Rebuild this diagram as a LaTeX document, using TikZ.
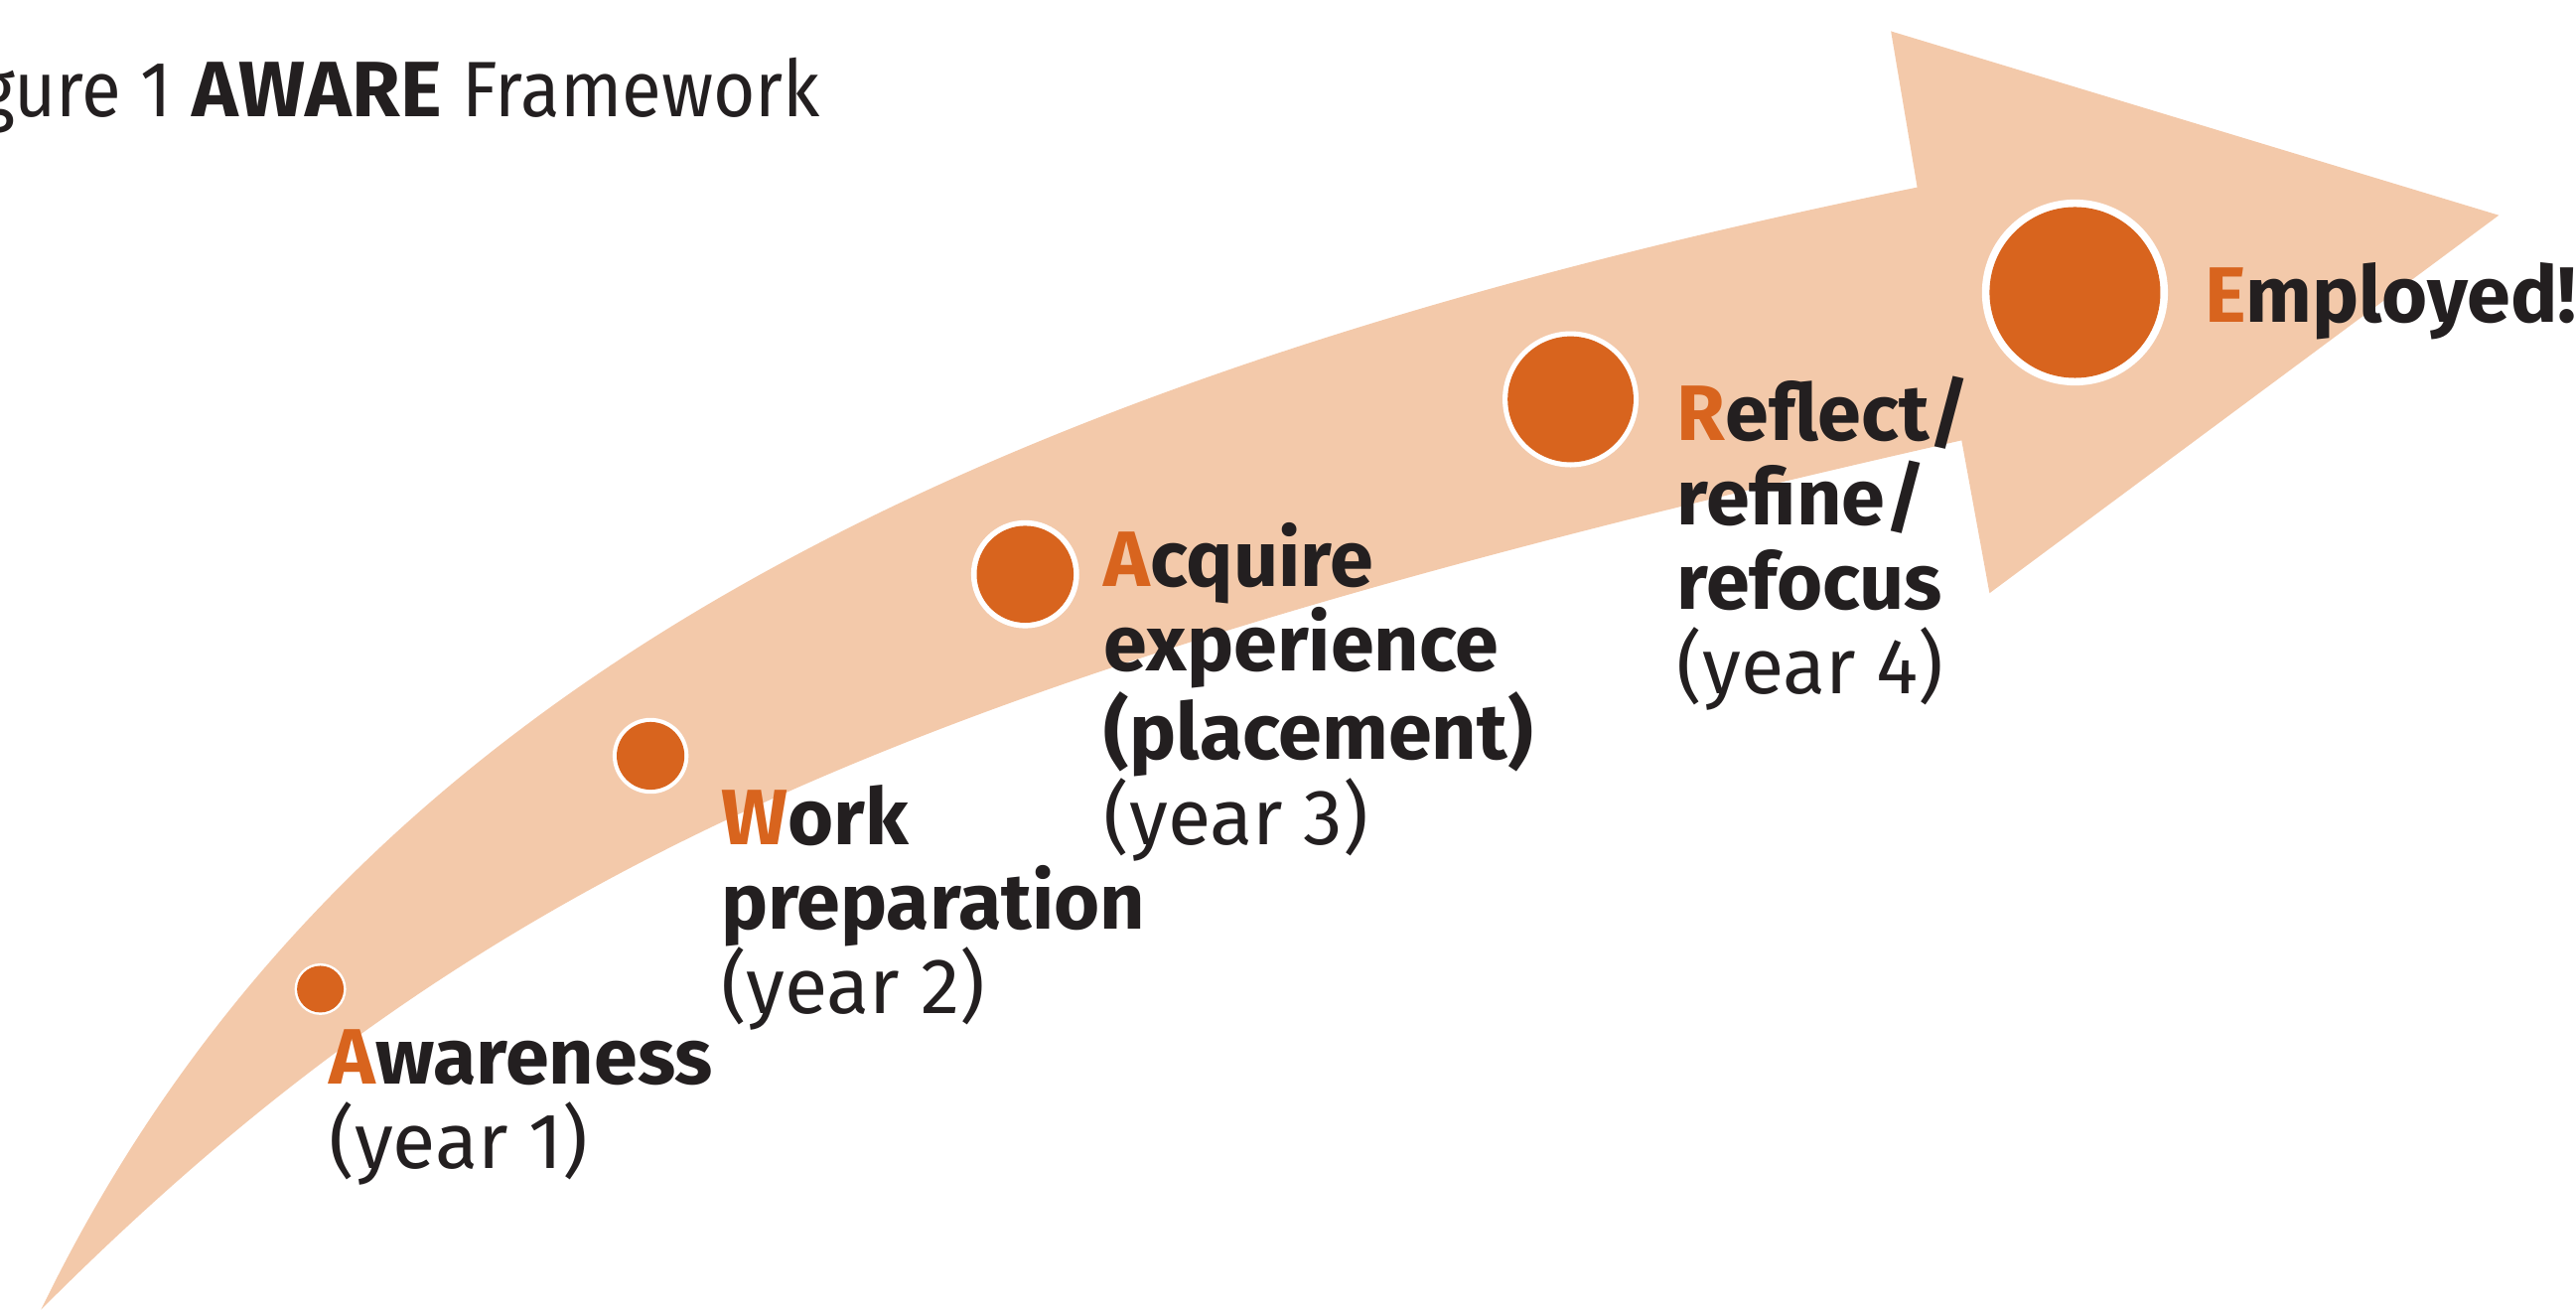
\documentclass[tikz,border=0pt]{standalone}
\usepackage{fontspec}
\setmainfont{Fira Sans}
\newfontfamily\titlefont{Fira Sans}[FakeStretch=0.92]
\definecolor{awpeach}{HTML}{F3C9AA}
\definecolor{aworange}{HTML}{D8641E}
\definecolor{awtext}{HTML}{231F20}
\newcommand{\hl}[1]{\textcolor{aworange}{#1}}
\begin{document}
\begin{tikzpicture}[x=0.016543cm, y=-0.016543cm,
    lbl/.style={anchor=base west, inner sep=0pt, align=left, text=awtext,
        font=\fontsize{22.5}{24.2}\selectfont}]
\useasboundingbox (0,0) rectangle (1568,797.3);
\fill[awpeach] (25,797) .. controls (195,447) and (537,242) .. (1167,114)
    -- (1151,19) -- (1521,131) -- (1211,361) -- (1194,268)
    .. controls (548.6,414.1) and (291.5,530.5) .. (25,797) -- cycle;
\fill[white] (195,602) circle (15.7);
\fill[white] (396,460) circle (23.1);
\fill[white] (624,349.5) circle (32.9);
\fill[white] (956,243) circle (41.4);
\fill[white] (1263,178) circle (56.6);
\fill[aworange] (195,602) circle (14.2);
\fill[aworange] (396,460) circle (20.6);
\fill[aworange] (624,349.5) circle (29.5);
\fill[aworange] (956,243) circle (38.3);
\fill[aworange] (1263,178) circle (52);
% last line of each label sits on the given baseline
\node[lbl, anchor=base east] (title) at (499.7,70.9) {{\titlefont Figure 1} \textbf{AWARE} {\titlefont Framework}};
\node[lbl] (awareness) at (200,711.3) {\textbf{\hl{A}wareness}\\(year 1)};
\node[lbl] (workprep) at (438.5,617) {\textbf{\hl{W}ork}\\\textbf{preparation}\\(year 2)};
\node[lbl] (acquire) at (671.7,513.8) {\textbf{\hl{A}cquire}\\\textbf{experience}\\\textbf{(placement)}\\(year 3)};
\node[lbl] (reflect) at (1020.4,422.1) {\textbf{\hl{R}eflect/}\\\textbf{refine/}\\\textbf{refocus}\\(year 4)};
\node[lbl] (employed) at (1341.5,196.2) {\textbf{\hl{E}mployed!}};
\end{tikzpicture}
\end{document}
